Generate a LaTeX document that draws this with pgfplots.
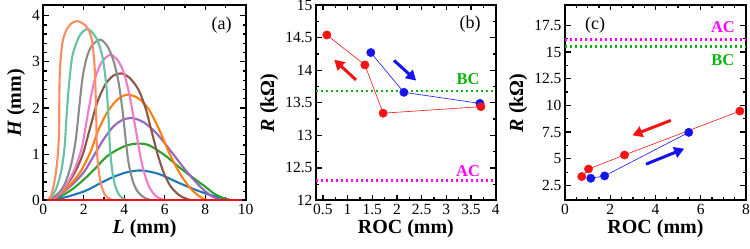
\documentclass[border=0pt]{standalone}
\usepackage{fontspec}
\setmainfont{Liberation Serif}
\usepackage{pgfplots}
\pgfplotsset{compat=1.18}
\usetikzlibrary{arrows.meta}
\definecolor{cblue}{HTML}{1F77B4}
\definecolor{cgreen}{HTML}{2CA02C}
\definecolor{cpurple}{HTML}{9467BD}
\definecolor{corange}{HTML}{FF7F0E}
\definecolor{cbrown}{HTML}{8C564B}
\definecolor{cpink}{HTML}{F07CC8}
\definecolor{cgray}{HTML}{8C8C8C}
\definecolor{cteal}{HTML}{66C2A5}
\definecolor{ccoral}{HTML}{FC8D62}
\definecolor{cred}{HTML}{E8141C}
\definecolor{pred}{RGB}{245,20,20}
\definecolor{pblue}{RGB}{20,20,235}
\definecolor{bcgreen}{RGB}{10,180,10}
\definecolor{acmag}{RGB}{255,0,255}
\pgfplotsset{
  every axis/.style={
    scale only axis,
    axis line style={line width=2pt},
    every tick/.style={black, line width=1.3pt},
    major tick length=5.5pt, minor tick length=3.2pt,
    tick align=inside,
    /pgf/number format/assume math mode=true,
    tick label style={font=\fontsize{15.5}{15.5}\selectfont},
    label style={font=\fontsize{20}{22}\selectfont\bfseries},
    xlabel style={yshift=2pt},
  },
}
\begin{document}
\begin{tikzpicture}[x=1pt,y=1pt]
% ---------- (a)
\begin{axis}[
  at={(43.3pt,48.5pt)}, anchor=south west,
  width=202.4pt, height=195.5pt,
  xmin=0, xmax=10, ymin=0, ymax=4.23,
  xtick={0,2,...,10}, minor x tick num=1,
  ytick={0,1,2,3,4}, minor y tick num=4,
  xlabel={{\itshape L} (mm)}, ylabel={{\itshape H} (mm)},
  every axis plot/.append style={line width=2.1pt, smooth, no marks},
]
\addplot[cblue] coordinates {(0.2,0) (0.82,0.04) (1.48,0.12) (2.14,0.22) (2.8,0.37) (3.46,0.51) (4.12,0.61) (4.75,0.65) (5.3,0.62) (5.8,0.56) (6.5,0.42) (7.3,0.27) (7.9,0.17) (8.4,0.1) (8.9,0.04) (9.3,0.01) (9.6,0)};
\addplot[cgreen] coordinates {(0.2,0) (0.82,0.08) (1.48,0.26) (2.14,0.51) (2.64,0.73) (3.13,0.95) (3.62,1.09) (4.12,1.19) (4.6,1.23) (5.2,1.2) (6.0,0.98) (6.8,0.69) (7.5,0.46) (8.0,0.3) (8.4,0.16) (8.8,0.07) (9.2,0.01) (9.4,0)};
\addplot[cpurple] coordinates {(0.2,0) (0.66,0.08) (1.32,0.3) (1.98,0.6) (2.47,0.95) (2.96,1.31) (3.46,1.6) (3.95,1.75) (4.45,1.78) (5.0,1.68) (5.6,1.45) (6.3,1.07) (6.95,0.7) (7.45,0.44) (7.9,0.24) (8.3,0.1) (8.7,0.02) (8.9,0)};
\addplot[corange] coordinates {(0.2,0) (0.5,0.06) (1.15,0.26) (1.8,0.6) (2.3,1.02) (2.7,1.5) (3.15,1.9) (3.65,2.18) (4.15,2.29) (4.7,2.21) (5.2,1.98) (5.7,1.56) (6.2,1.05) (6.7,0.62) (7.2,0.3) (7.65,0.11) (8.0,0.02) (8.2,0)};
\addplot[cbrown] coordinates {(0.2,0) (0.6,0.1) (1.1,0.3) (1.55,0.6) (1.95,1.0) (2.3,1.55) (2.65,2.1) (3.05,2.5) (3.45,2.7) (3.85,2.75) (4.25,2.66) (4.7,2.4) (5.05,2.0) (5.35,1.5) (5.65,1.0) (5.95,0.6) (6.3,0.3) (6.7,0.12) (7.1,0.03) (7.4,0)};
\addplot[cpink] coordinates {(0.2,0) (0.66,0.09) (1.1,0.31) (1.55,0.68) (1.9,1.14) (2.14,1.72) (2.38,2.3) (2.6,2.7) (2.9,3.0) (3.3,3.15) (3.65,3.05) (3.95,2.8) (4.2,2.4) (4.4,1.95) (4.6,1.45) (4.8,0.95) (5.0,0.58) (5.25,0.28) (5.55,0.1) (5.9,0.02) (6.3,0)};
\addplot[cgray] coordinates {(0.2,0) (0.62,0.1) (1.03,0.33) (1.36,0.75) (1.6,1.3) (1.76,1.95) (1.94,2.66) (2.15,3.1) (2.4,3.35) (2.8,3.48) (3.15,3.35) (3.45,3.05) (3.7,2.6) (3.9,2.0) (4.05,1.4) (4.2,0.85) (4.4,0.45) (4.65,0.2) (5.0,0.06) (5.4,0)};
\addplot[cteal] coordinates {(0.2,0) (0.58,0.2) (0.87,0.6) (1.05,1.15) (1.15,1.83) (1.28,2.55) (1.44,3.13) (1.75,3.53) (2.0,3.67) (2.22,3.71) (2.45,3.62) (2.72,3.42) (2.95,3.05) (3.12,2.45) (3.22,1.8) (3.3,1.1) (3.42,0.6) (3.6,0.25) (3.85,0.07) (4.2,0)};
\addplot[ccoral] coordinates {(0.25,0) (0.38,0.1) (0.5,0.3) (0.62,0.6) (0.72,1.0) (0.78,1.5) (0.79,2.1) (0.82,2.8) (0.94,3.4) (1.15,3.7) (1.45,3.85) (1.7,3.88) (1.95,3.83) (2.17,3.74) (2.38,3.51) (2.52,3.0) (2.58,2.4) (2.62,1.7) (2.65,1.1) (2.72,0.7) (2.85,0.35) (3.05,0.12) (3.3,0.03) (3.5,0)};
\addplot[cred, line width=2.4pt, sharp plot] coordinates {(0.2,0) (9.8,0)};
\node[font=\fontsize{18}{18}\selectfont] at (axis cs:8.81,3.8) {(a)};
\end{axis}
% ---------- (b)
\begin{axis}[
  at={(316pt,48.5pt)}, anchor=south west,
  width=179.7pt, height=195.5pt,
  xmin=0.36, xmax=4, ymin=12, ymax=15,
  xtick={0.5,1,...,4}, minor x tick num=1,
  ytick={12,12.5,...,15}, minor y tick num=1,
  xlabel={ROC (mm)}, ylabel={{\itshape R} (kΩ)},
]
\addplot[acmag, line width=2.6pt, dash pattern=on 2.4pt off 2.6pt] coordinates {(0.36,12.31) (4,12.31)};
\addplot[bcgreen, line width=2.6pt, dash pattern=on 2.4pt off 2.6pt] coordinates {(0.36,13.68) (4,13.68)};
\addplot[pblue, line width=0.6pt, mark=*, mark size=4.2pt, mark options={line width=0.4pt, fill=pblue}] coordinates {(1.47,14.27) (2.14,13.66) (3.68,13.49)};
\addplot[pred, line width=0.6pt, mark=*, mark size=4.2pt, mark options={line width=0.4pt, fill=pred}] coordinates {(0.58,14.54) (1.35,14.08) (1.72,13.34) (3.70,13.44)};
\draw[pred, line width=3pt, -{Triangle[length=10pt,width=11pt]}] (axis cs:1.17,13.85) -- (axis cs:0.73,14.16);
\draw[pblue, line width=3pt, -{Triangle[length=10pt,width=11pt]}] (axis cs:1.94,14.15) -- (axis cs:2.39,13.84);
\node[font=\fontsize{16.5}{16.5}\selectfont\bfseries, text=bcgreen] at (axis cs:3.44,13.86) {BC};
\node[font=\fontsize{16.5}{16.5}\selectfont\bfseries, text=acmag] at (axis cs:3.44,12.45) {AC};
\node[font=\fontsize{18}{18}\selectfont] at (axis cs:3.48,14.71) {(b)};
\end{axis}
% ---------- (c)
\begin{axis}[
  at={(565pt,48.5pt)}, anchor=south west,
  width=181pt, height=195.5pt,
  xmin=0, xmax=8, ymin=1.1, ymax=19.4,
  xtick={0,2,...,8}, minor x tick num=3,
  ytick={2.5,5,...,17.5}, minor y tick num=1,
  yticklabels={2.5,5,7.5,10,12.5,15,17.5},
  xlabel={ROC (mm)}, ylabel={{\itshape R} (kΩ)},
]
\addplot[acmag, line width=2.6pt, dash pattern=on 2.4pt off 2.6pt] coordinates {(0,16.19) (8,16.19)};
\addplot[bcgreen, line width=2.6pt, dash pattern=on 2.4pt off 2.6pt] coordinates {(0,15.54) (8,15.54)};
\addplot[pred, line width=0.6pt, mark=*, mark size=4.2pt, mark options={line width=0.4pt, fill=pred}] coordinates {(0.74,3.34) (1.04,4.05) (2.63,5.36) (7.73,9.47)};
\addplot[pblue, line width=0.6pt, mark=*, mark size=4.2pt, mark options={line width=0.4pt, fill=pblue}] coordinates {(1.14,3.18) (1.75,3.40) (5.47,7.48)};
\draw[pred, line width=3pt, -{Triangle[length=10pt,width=11pt]}] (axis cs:4.68,8.6) -- (axis cs:2.98,7.2);
\draw[pblue, line width=3pt, -{Triangle[length=10pt,width=11pt]}] (axis cs:3.58,4.5) -- (axis cs:5.27,5.95);
\node[font=\fontsize{16.5}{16.5}\selectfont\bfseries, text=acmag] at (axis cs:6.98,17.34) {AC};
\node[font=\fontsize{16.5}{16.5}\selectfont\bfseries, text=bcgreen] at (axis cs:6.98,14.23) {BC};
\node[font=\fontsize{18}{18}\selectfont] at (axis cs:1.33,17.5) {(c)};
\end{axis}
\pgfresetboundingbox
\useasboundingbox (0,0) rectangle (750,249);
\end{tikzpicture}
\end{document}
